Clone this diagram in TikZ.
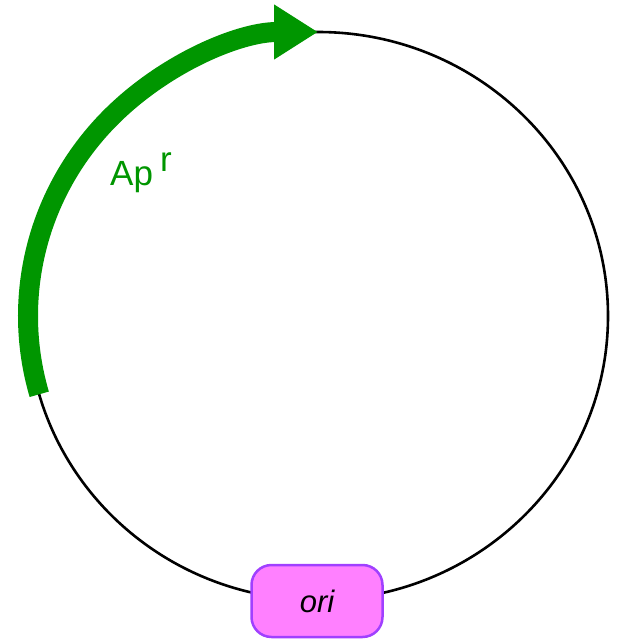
\documentclass[tikz,border=0pt]{standalone}
\usepackage{fontspec}
\setmainfont{Liberation Sans}
\usetikzlibrary{arrows.meta}
\definecolor{genegreen}{RGB}{0,150,0}
\definecolor{oripink}{RGB}{255,128,255}
\definecolor{oriedge}{RGB}{160,64,255}

\begin{document}
\begin{tikzpicture}[x=1pt, y=-1pt, every node/.style={inner sep=0pt}]
  \useasboundingbox (0,0) rectangle (617,640);
  \coordinate (c) at (318,316);
  % plasmid backbone
  \draw[line width=2.6pt] (c) ellipse [x radius=290pt, y radius=284pt];
  % resistance gene
  \draw[genegreen, line width=20pt, -{Triangle[width=52pt, length=44pt]}]
    (c) ++(196:290pt and 284pt) arc[start angle=196, end angle=90, x radius=290pt, y radius=284pt];
  \node[genegreen, anchor=base west, font=\fontsize{35}{40}\selectfont] (apr) at (110,185) {Ap\hspace{7pt}\raisebox{14pt}{r}};
  % origin
  \node[draw=oriedge, fill=oripink, line width=2.5pt, rounded corners=20pt, minimum width=131pt, minimum height=72pt, font=\fontsize{31}{36}\selectfont\itshape] (ori) at (317,601) {ori};
\end{tikzpicture}
\end{document}
